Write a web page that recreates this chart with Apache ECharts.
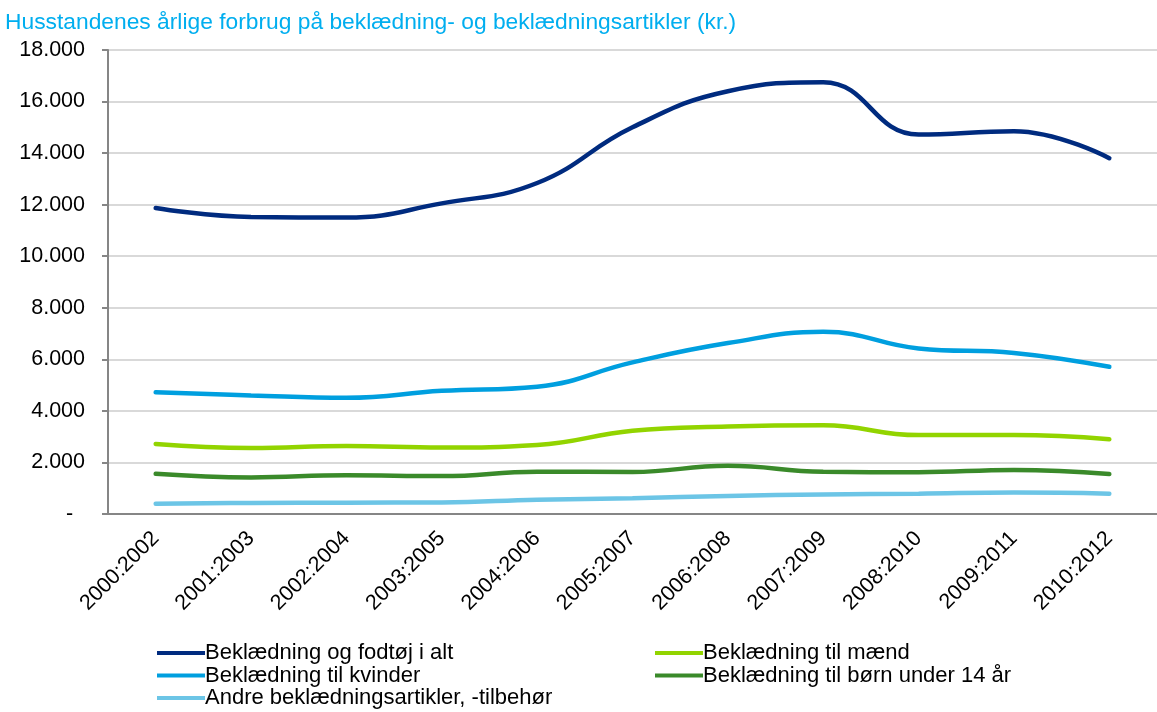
<!DOCTYPE html>
<html>
<head>
<meta charset="utf-8">
<script src="https://cdn.jsdelivr.net/npm/echarts@6/dist/echarts.min.js"></script>
<style>
  html, body { margin: 0; padding: 0; background: #fff; }
  #chart { width: 1157px; height: 712px; }
</style>
</head>
<body>
<div id="chart"></div>
<script>
// perioder (treårs gennemsnit)
const periods = ['2000:2002', '2001:2003', '2002:2004', '2003:2005', '2004:2006', '2005:2007',
  '2006:2008', '2007:2009', '2008:2010', '2009:2011', '2010:2012'];

const totalSeries = [11870, 11520, 11500, 12050, 12840, 15000, 16400, 16750, 14720, 14850, 13800];
const womenSeries = [4720, 4600, 4510, 4780, 4940, 5880, 6630, 7070, 6420, 6250, 5710];
const menSeries = [2720, 2560, 2640, 2580, 2680, 3230, 3390, 3440, 3060, 3060, 2900];
const kidsSeries = [1560, 1420, 1500, 1470, 1640, 1630, 1870, 1640, 1620, 1710, 1550];
const otherSeries = [400, 430, 440, 450, 550, 610, 700, 760, 790, 830, 790];

const yTicks = [0, 2000, 4000, 6000, 8000, 10000, 12000, 14000, 16000, 18000];

const FONT = '"Liberation Sans", Arial, sans-serif';

const names = {
  total: 'Beklædning og fodtøj i alt',
  women: 'Beklædning til kvinder',
  other: 'Andre beklædningsartikler, -tilbehør',
  men: 'Beklædning til mænd',
  kids: 'Beklædning til børn under 14 år'
};

function fmt(v) {
  if (v === 0) return '-  ';
  return String(v).replace(/\B(?=(\d{3})+(?!\d))/g, '.');
}

function line(name, data, color) {
  return {
    name: name,
    type: 'line',
    data: data,
    smooth: 0.45,
    symbol: 'none',
    lineStyle: { width: 4.5, color: color, cap: 'round' },
    itemStyle: { color: color }
  };
}

const chart = echarts.init(document.getElementById('chart'));

const legendBase = {
  orient: 'vertical',
  top: 637,
  height: 72,
  icon: 'rect',
  itemWidth: 48,
  itemHeight: 4,
  itemGap: 0.5,
  textStyle: { fontFamily: FONT, fontSize: 22, lineHeight: 22, color: '#000', padding: [0, 0, 0, -5] }
};

chart.setOption({
  animation: false,
  backgroundColor: '#fff',
  title: {
    text: 'Husstandenes årlige forbrug på beklædning- og beklædningsartikler (kr.)',
    left: 0,
    top: 6,
    textStyle: { fontFamily: FONT, fontSize: 22.8, fontWeight: 'normal', color: '#00AEEF' }
  },
  legend: [
    Object.assign({}, legendBase, { left: 152, data: [names.total, names.women, names.other] }),
    Object.assign({}, legendBase, { left: 650, data: [names.men, names.kids] })
  ],
  grid: { left: 108, top: 50, width: 1069, height: 464, containLabel: false },
  xAxis: {
    type: 'category',
    data: periods,
    boundaryGap: true,
    axisLine: { lineStyle: { color: '#868686', width: 2 } },
    axisTick: { length: 6, lineStyle: { color: '#868686', width: 2 } },
    axisLabel: {
      rotate: 45,
      margin: 21,
      fontFamily: FONT,
      fontSize: 21.5,
      color: '#000'
    }
  },
  yAxis: {
    type: 'value',
    min: 0,
    max: 18000,
    interval: 2000,
    axisLine: { show: true, lineStyle: { color: '#868686', width: 2 } },
    axisTick: { show: true, length: 6, lineStyle: { color: '#868686', width: 2 } },
    splitLine: { lineStyle: { color: '#D9D9D9', width: 2 } },
    axisLabel: {
      fontFamily: FONT,
      fontSize: 21.5,
      color: '#000',
      margin: 23,
      formatter: function (v) { return yTicks.indexOf(v) >= 0 ? fmt(v) : ''; }
    }
  },
  series: [
    line(names.total, totalSeries, '#002B7F'),
    line(names.men, menSeries, '#92D400'),
    line(names.women, womenSeries, '#009FDF'),
    line(names.kids, kidsSeries, '#3A8A2A'),
    line(names.other, otherSeries, '#6CC5E6')
  ]
});
</script>
</body>
</html>
